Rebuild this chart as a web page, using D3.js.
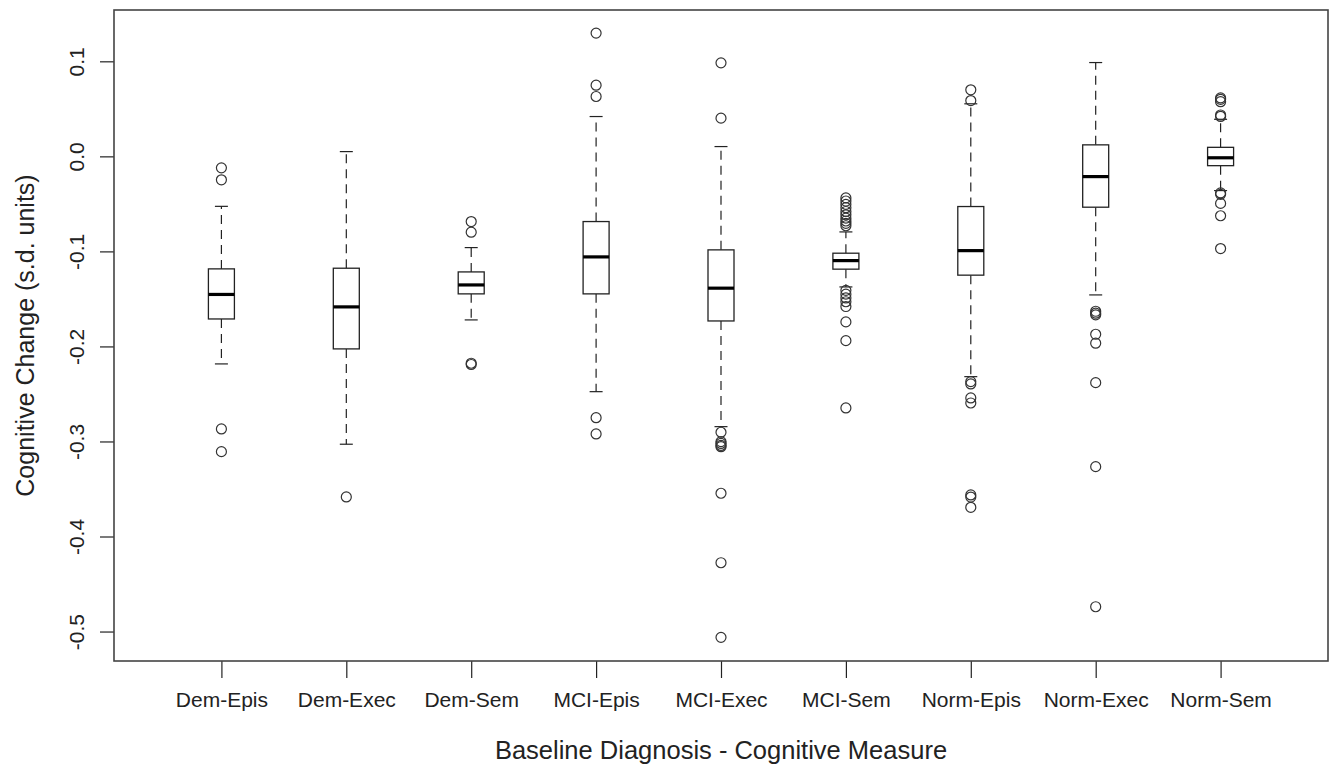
<!DOCTYPE html>
<html>
<head>
<meta charset="utf-8">
<script src="https://cdn.jsdelivr.net/npm/d3@7"></script>
<style>
  body { margin: 0; background: #fff; }
  svg { display: block; font-family: "Liberation Sans", Arial, sans-serif; }
</style>
</head>
<body>
<svg id="chart"></svg>
<script>
// categories and box statistics
const categories = ["Dem-Epis", "Dem-Exec", "Dem-Sem", "MCI-Epis", "MCI-Exec", "MCI-Sem", "Norm-Epis", "Norm-Exec", "Norm-Sem"];
const whiskerHigh = [-0.0526, 0.005, -0.096, 0.0419, 0.0103, -0.0795, 0.0553, 0.0987, 0.039];
const q3Values = [-0.1184, -0.1177, -0.1216, -0.0686, -0.0984, -0.1019, -0.0528, 0.0121, 0.0095];
const medians = [-0.1453, -0.1584, -0.1353, -0.1058, -0.1387, -0.1097, -0.0992, -0.0213, -0.0015];
const q1Values = [-0.1711, -0.2026, -0.1447, -0.1447, -0.1732, -0.1187, -0.125, -0.0535, -0.0098];
const whiskerLow = [-0.2184, -0.3029, -0.1721, -0.2476, -0.2844, -0.1374, -0.2318, -0.1458, -0.036];
const outliers = [
  [-0.0121, -0.0247, -0.2868, -0.3107],
  [-0.3584],
  [-0.0686, -0.0798, -0.2177, -0.219],
  [0.1297, 0.0749, 0.063, -0.275, -0.2921],
  [0.0984, 0.0402, -0.2903, -0.3002, -0.3021, -0.3042, -0.3055, -0.3545, -0.4276, -0.5061],
  [-0.0437, -0.047, -0.0505, -0.054, -0.058, -0.0615, -0.065, -0.068, -0.0705, -0.073,
   -0.141, -0.145, -0.149, -0.153, -0.158, -0.1742, -0.1939, -0.2647],
  [0.07, 0.0587, -0.237, -0.2395, -0.2542, -0.2595, -0.3563, -0.3585, -0.3693],
  [-0.163, -0.165, -0.1667, -0.1872, -0.1966, -0.2381, -0.3265, -0.4739],
  [0.0615, 0.06, 0.0575, 0.0435, 0.042, -0.0385, -0.04, -0.0495, -0.0625, -0.097]
];
const yTicks = [-0.5, -0.4, -0.3, -0.2, -0.1, 0.0, 0.1];

const width = 1342, height = 769;
const plotLeft = 114, plotRight = 1328, plotTop = 10, plotBottom = 661;

const svg = d3.select("#chart").attr("width", width).attr("height", height);

const x = d3.scalePoint().domain(categories).range([plotLeft, plotRight]).padding(0.86);
const y = d3.scaleLinear().domain([-0.531, 0.154]).range([plotBottom, plotTop]);

const boxW = 26;
const ink = "#222";

// axes (plain hyphen minus, like R)
const yAxis = svg.append("g")
  .attr("transform", `translate(${plotLeft},0)`)
  .call(d3.axisLeft(y).tickValues(yTicks).tickFormat(d => d.toFixed(1)).tickSize(14).tickSizeOuter(0));
yAxis.select(".domain").remove();
yAxis.selectAll("line").attr("stroke", ink).attr("stroke-width", 1.2);
yAxis.selectAll("text")
  .attr("x", null)
  .attr("transform", "translate(-37,0) rotate(-90)")
  .attr("text-anchor", "middle")
  .attr("dy", "0.35em")
  .attr("fill", ink)
  .style("font-size", "21px");

const xAxis = svg.append("g")
  .attr("transform", `translate(0,${plotBottom})`)
  .call(d3.axisBottom(x).tickSize(17).tickSizeOuter(0));
xAxis.select(".domain").remove();
xAxis.selectAll("line").attr("stroke", ink).attr("stroke-width", 1.2);
xAxis.selectAll("text")
  .attr("y", 39).attr("dy", "0.35em")
  .attr("fill", ink)
  .style("font-size", "21px");

// frame
svg.append("rect")
  .attr("x", plotLeft).attr("y", plotTop)
  .attr("width", plotRight - plotLeft).attr("height", plotBottom - plotTop)
  .attr("fill", "none").attr("stroke", "#444").attr("stroke-width", 1.6);

// boxes
const g = svg.selectAll(".box")
  .data(categories)
  .enter()
  .append("g")
  .attr("class", "box")
  .attr("transform", d => `translate(${x(d)},0)`);

// whiskers (dashed)
g.append("line")
  .attr("y1", (d, i) => y(q3Values[i])).attr("y2", (d, i) => y(whiskerHigh[i]))
  .attr("stroke", ink).attr("stroke-width", 1.2).attr("stroke-dasharray", "9,6");
g.append("line")
  .attr("y1", (d, i) => y(q1Values[i])).attr("y2", (d, i) => y(whiskerLow[i]))
  .attr("stroke", ink).attr("stroke-width", 1.2).attr("stroke-dasharray", "9,6");

// staples
g.append("line")
  .attr("x1", -boxW / 4).attr("x2", boxW / 4)
  .attr("y1", (d, i) => y(whiskerHigh[i])).attr("y2", (d, i) => y(whiskerHigh[i]))
  .attr("stroke", ink).attr("stroke-width", 1.2);
g.append("line")
  .attr("x1", -boxW / 4).attr("x2", boxW / 4)
  .attr("y1", (d, i) => y(whiskerLow[i])).attr("y2", (d, i) => y(whiskerLow[i]))
  .attr("stroke", ink).attr("stroke-width", 1.2);

// box
g.append("rect")
  .attr("x", -boxW / 2).attr("width", boxW)
  .attr("y", (d, i) => y(q3Values[i]))
  .attr("height", (d, i) => y(q1Values[i]) - y(q3Values[i]))
  .attr("fill", "#fff").attr("stroke", ink).attr("stroke-width", 1.3);

// median
g.append("line")
  .attr("x1", -boxW / 2).attr("x2", boxW / 2)
  .attr("y1", (d, i) => y(medians[i])).attr("y2", (d, i) => y(medians[i]))
  .attr("stroke", "#000").attr("stroke-width", 3.2);

// outliers
g.selectAll("circle")
  .data((d, i) => outliers[i])
  .enter()
  .append("circle")
  .attr("cx", 0)
  .attr("cy", d => y(d))
  .attr("r", 5)
  .attr("fill", "none")
  .attr("stroke", "#333")
  .attr("stroke-width", 1.2);

// axis titles
svg.append("text")
  .attr("x", (plotLeft + plotRight) / 2).attr("y", 750).attr("dy", "0.35em")
  .attr("text-anchor", "middle").attr("fill", ink)
  .style("font-size", "25.5px")
  .text("Baseline Diagnosis - Cognitive Measure");

svg.append("text")
  .attr("transform", `translate(25,${(plotTop + plotBottom) / 2}) rotate(-90)`)
  .attr("dy", "0.35em")
  .attr("text-anchor", "middle").attr("fill", ink)
  .style("font-size", "25px")
  .text("Cognitive Change (s.d. units)");
</script>
</body>
</html>
